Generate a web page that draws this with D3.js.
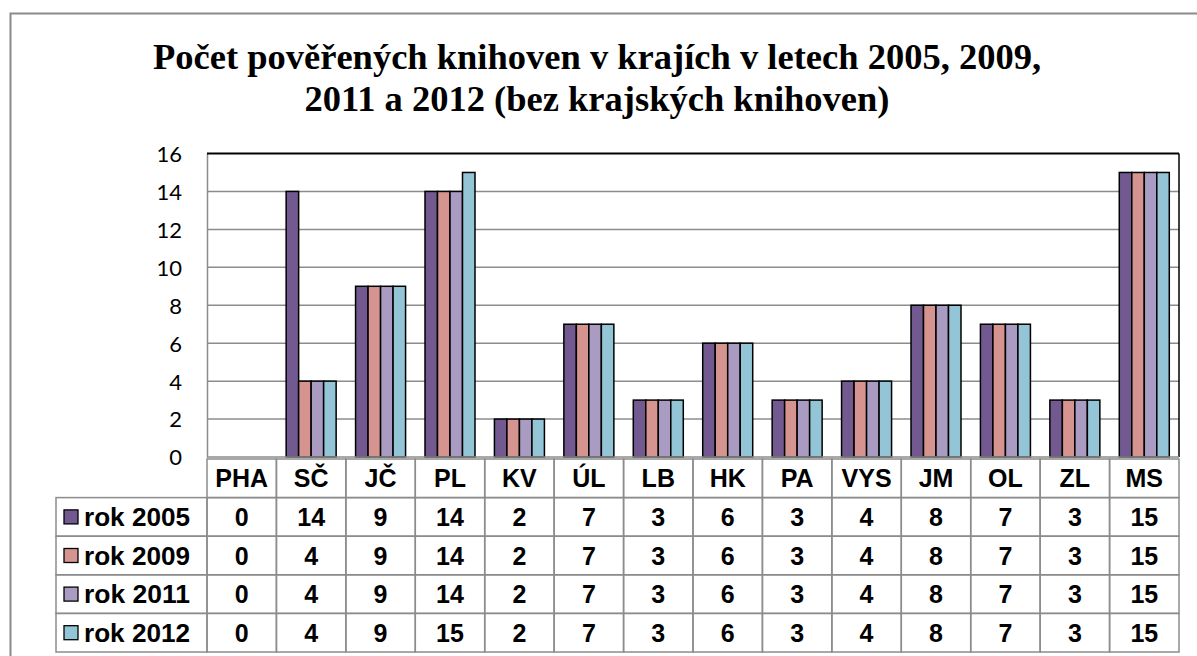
<!DOCTYPE html>
<html><head><meta charset="utf-8">
<script src="https://cdn.jsdelivr.net/npm/d3@7"></script>
<style>html,body{margin:0;padding:0;background:#fff;}svg{display:block;}</style>
</head><body>
<svg id="c" width="1197" height="656"></svg>
<script>
const categories = ["PHA","SČ","JČ","PL","KV","ÚL","LB","HK","PA","VYS","JM","OL","ZL","MS"];
const seriesNames = ["rok 2005","rok 2009","rok 2011","rok 2012"];
const rok2005 = [0,14,9,14,2,7,3,6,3,4,8,7,3,15];
const rok2009 = [0,4,9,14,2,7,3,6,3,4,8,7,3,15];
const rok2011 = [0,4,9,14,2,7,3,6,3,4,8,7,3,15];
const rok2012 = [0,4,9,15,2,7,3,6,3,4,8,7,3,15];
const yTicks = [0,2,4,6,8,10,12,14,16];
const colors = ["#725a91","#d69491","#a99bc1","#93c5d6"];
const titleLines = ["Počet pověřených knihoven v krajích v letech 2005, 2009,","2011 a 2012 (bez krajských knihoven)"];

const series = [rok2005, rok2009, rok2011, rok2012];
const svg = d3.select("#c");
const L = 207, R = 1179, T = 153.5, B = 457;

// outer frame
svg.append("rect").attr("x",10.5).attr("y",13.5).attr("width",1200).attr("height",700)
  .attr("fill","none").attr("stroke","#8a8a8a").attr("stroke-width",2);

// title
svg.append("g").selectAll("text").data(titleLines).join("text")
  .attr("x",597).attr("y",(d,i)=>69+i*42).attr("text-anchor","middle")
  .attr("font-family","Liberation Serif, Times New Roman, serif").attr("font-weight","bold")
  .attr("font-size",36.5).attr("fill","#000").text(d=>d);

const x = d3.scaleBand().domain(categories).range([L,R]);
const y = d3.scaleLinear().domain([0,16]).range([B,T]);
const inner = d3.scaleBand().domain(d3.range(4)).range([0,50]);
const groupOff = (x.bandwidth()-50)/2;

// grid
svg.append("g").selectAll("line").data(yTicks.filter(t=>t>0&&t<16)).join("line")
  .attr("x1",L).attr("x2",R).attr("y1",d=>y(d)).attr("y2",d=>y(d))
  .attr("stroke","#8c8c8c").attr("stroke-width",1.5);

// y axis
const yAxis = d3.axisLeft(y).tickValues(yTicks).tickSize(0).tickPadding(25);
const ya = svg.append("g").attr("transform",`translate(${L},0)`).call(yAxis)
  .attr("font-size",22).attr("font-family","Lato, Carlito, Calibri, sans-serif");
ya.select(".domain").attr("stroke","#8c8c8c").attr("stroke-width",1.5);
ya.selectAll("text").attr("fill","#000").attr("dy","0.36em");

// bars
series.forEach((vals,si)=>{
  svg.append("g").selectAll("rect").data(categories.map((c,i)=>({c,v:vals[i]})).filter(d=>d.v>0)).join("rect")
    .attr("x",d=>x(d.c)+groupOff+inner(si)).attr("width",inner.bandwidth())
    .attr("y",d=>y(d.v)).attr("height",d=>B-y(d.v))
    .attr("fill",colors[si]).attr("stroke","#000").attr("stroke-width",1.5);
});

// plot border top/right
svg.append("line").attr("x1",L).attr("x2",R).attr("y1",T).attr("y2",T).attr("stroke","#000").attr("stroke-width",2);
svg.append("line").attr("x1",R).attr("x2",R).attr("y1",T).attr("y2",B).attr("stroke","#000").attr("stroke-width",1.5);
svg.append("line").attr("x1",L).attr("x2",R).attr("y1",B).attr("y2",B).attr("stroke","#8c8c8c").attr("stroke-width",1.5);

// data table
const rowTop = 459, rowH = 38.6, legL = 56;
const tg = svg.append("g");
const tfont = "Liberation Sans, Arial, sans-serif";
const fs = 25, base = 9;
categories.forEach(c=>{
  tg.append("rect").attr("x",x(c)).attr("y",rowTop).attr("width",x.bandwidth()).attr("height",rowH)
    .attr("fill","none").attr("stroke","#8c8c8c").attr("stroke-width",1.5);
  tg.append("text").attr("x",x(c)+x.bandwidth()/2).attr("y",rowTop+rowH/2+base)
    .attr("text-anchor","middle").attr("font-family",tfont).attr("font-weight","bold")
    .attr("font-size",fs).text(c);
});
series.forEach((vals,si)=>{
  const ry = rowTop + rowH*(si+1);
  tg.append("rect").attr("x",legL).attr("y",ry).attr("width",L-legL).attr("height",rowH)
    .attr("fill","none").attr("stroke","#8c8c8c").attr("stroke-width",1.5);
  tg.append("rect").attr("x",64).attr("y",ry+rowH/2-7).attr("width",14).attr("height",14)
    .attr("fill",colors[si]).attr("stroke","#000").attr("stroke-width",1.3);
  tg.append("text").attr("x",84).attr("y",ry+rowH/2+base).attr("font-family",tfont)
    .attr("font-weight","bold").attr("font-size",fs).attr("textLength",106)
    .attr("lengthAdjust","spacingAndGlyphs").text(seriesNames[si]);
  categories.forEach((c,i)=>{
    tg.append("rect").attr("x",x(c)).attr("y",ry).attr("width",x.bandwidth()).attr("height",rowH)
      .attr("fill","none").attr("stroke","#8c8c8c").attr("stroke-width",1.5);
    tg.append("text").attr("x",x(c)+x.bandwidth()/2).attr("y",ry+rowH/2+base)
      .attr("text-anchor","middle").attr("font-family",tfont).attr("font-weight","bold")
      .attr("font-size",fs).text(vals[i]);
  });
});
</script>
</body></html>
